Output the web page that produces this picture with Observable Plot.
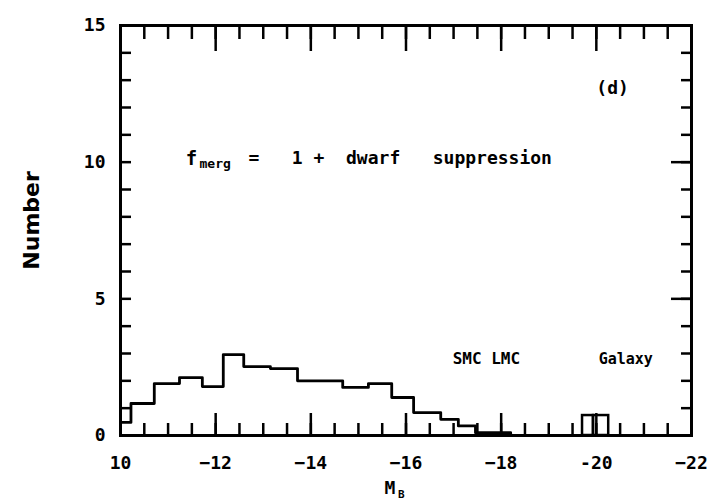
<!DOCTYPE html>
<html>
<head>
<meta charset="utf-8">
<script src="https://cdn.jsdelivr.net/npm/d3@7"></script>
<script src="https://cdn.jsdelivr.net/npm/@observablehq/plot@0.6"></script>
<style>
  html, body { margin: 0; padding: 0; background: #fff; }
  svg text { white-space: pre; }
</style>
</head>
<body>
<div id="chart"></div>
<script>
// Histogram: left edge of each bin (M_B) and the count in that bin
const binEdges = [-10, -10.22, -10.71, -11.24, -11.72, -12.16, -12.59, -13.15, -13.72, -14.67, -15.21, -15.70, -16.16, -16.73, -17.10, -17.46, -18.20];
const binCounts = [0.48, 1.17, 1.9, 2.12, 1.79, 2.96, 2.52, 2.45, 2.0, 1.76, 1.9, 1.39, 0.84, 0.59, 0.35, 0.1, 0];
const histEnd = -19.5;

// Small boxes near M_B = -20 (SMC / LMC / Galaxy markers)
const boxX1 = [-19.71, -19.94];
const boxX2 = [-19.94, -20.26];
const boxHeight = [0.73, 0.73];

// Axis ticks
const xLabelTicks = [-10, -12, -14, -16, -18, -20, -22];
const xMinorTicks = d3.range(0, 25).map(i => -10 - i * 0.5);
const xMajorTicks = [-10, -12, -14, -16, -18, -20, -22];
const yLabelTicks = [0, 5, 10, 15];
const yMinorTicks = d3.range(0, 16);
const yMajorTicks = [5, 10];

// Annotations
const annoText = ["(d)", "SMC LMC", "Galaxy", "f", "merg", "=   1 +  dwarf   suppression"];
const annoX = [-20.0, -16.98, -20.05, -11.37, -11.66, -12.69];
const annoY = [12.48, 2.63, 2.63, 9.88, 9.77, 9.95];
const annoSize = [18, 16, 15, 19, 13, 18];

const hist = binEdges.map((x, i) => ({x, y: binCounts[i]}));
hist.push({x: histEnd, y: binCounts[binCounts.length - 1]});
const boxes = boxX1.map((x1, i) => ({x1, x2: boxX2[i], y: boxHeight[i]}));
const annos = annoText.map((t, i) => ({t, x: annoX[i], y: annoY[i], s: annoSize[i]}));

const W = 715, H = 502, mL = 120, mR = 24, mT = 25, mB = 67;
const innerH = H - mT - mB, innerW = W - mL - mR;

const chart = Plot.plot({
  width: W,
  height: H,
  marginLeft: mL,
  marginRight: mR,
  marginTop: mT,
  marginBottom: mB,
  x: {domain: [-10, -22]},
  y: {domain: [0, 15]},
  style: {fontFamily: "DejaVu Sans Mono", fontWeight: "bold", fontSize: "18px", background: "#fff", color: "#000"},
  marks: [
    // bottom ticks (inward)
    Plot.tickX(xMinorTicks, {x: d => d, insetTop: innerH - 12, stroke: "#000", strokeWidth: 2.5}),
    Plot.tickX(xMajorTicks, {x: d => d, insetTop: innerH - 22, stroke: "#000", strokeWidth: 2.5}),
    // top ticks (inward)
    Plot.tickX(xMinorTicks, {x: d => d, insetBottom: innerH - 14, stroke: "#000", strokeWidth: 2.5}),
    Plot.tickX(xMajorTicks, {x: d => d, insetBottom: innerH - 26, stroke: "#000", strokeWidth: 2.5}),
    // left ticks
    Plot.tickY(yMinorTicks, {y: d => d, insetRight: innerW - 11, stroke: "#000", strokeWidth: 2.5}),
    // right ticks
    Plot.tickY(yMinorTicks, {y: d => d, insetLeft: innerW - 10, stroke: "#000", strokeWidth: 2.5}),
    Plot.tickY(yMajorTicks, {y: d => d, insetLeft: innerW - 20, stroke: "#000", strokeWidth: 2.5}),
    Plot.frame({stroke: "#000", strokeWidth: 3}),
    // histogram
    Plot.line(hist, {x: "x", y: "y", curve: "step-after", stroke: "#000", strokeWidth: 2.8}),
    Plot.rect(boxes, {x1: "x1", x2: "x2", y1: 0, y2: "y", fill: "none", stroke: "#000", strokeWidth: 2.5}),
    // axes labels
    Plot.axisX(xLabelTicks, {tickSize: 0, tickPadding: 21, label: null,
      tickFormat: d => d === -10 ? "10" : d === -20 ? "-20" : "\u2212" + (-d)}),
    Plot.axisY(yLabelTicks, {tickSize: 0, tickPadding: 15, label: null}),
    // annotations
    Plot.text(annos, {x: "x", y: "y", text: "t", fontSize: d => d.s, textAnchor: "start", lineAnchor: "bottom", fill: "#000"}),
    Plot.text(["Number"], {x: [-8.13], y: [7.87], text: d => d, rotate: -90, fontFamily: "DejaVu Sans", fontSize: 22, textAnchor: "middle", lineAnchor: "middle", fill: "#000"}),
    Plot.text(["M"], {x: [-15.55], y: [-2.15], text: d => d, fontSize: 18, textAnchor: "start", lineAnchor: "bottom", fill: "#000"}),
    Plot.text(["B"], {x: [-15.83], y: [-2.3], text: d => d, fontSize: 11, textAnchor: "start", lineAnchor: "bottom", fill: "#000"})
  ]
});
document.getElementById("chart").appendChild(chart);
</script>
</body>
</html>
